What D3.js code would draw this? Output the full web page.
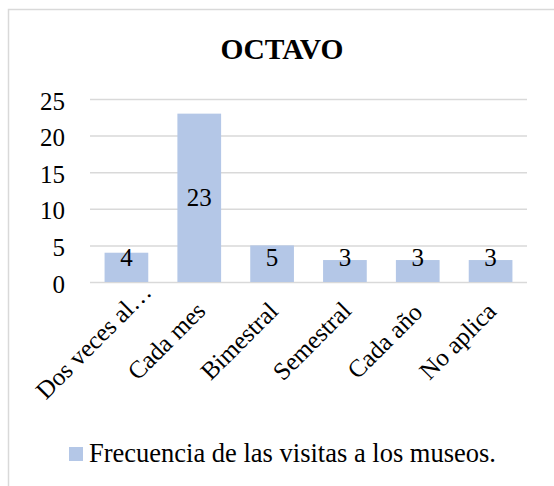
<!DOCTYPE html>
<html>
<head>
<meta charset="utf-8">
<script src="https://cdn.jsdelivr.net/npm/d3@7"></script>
<style>
  body { margin: 0; background: #fff; }
  svg text { font-family: "Times New Roman", "Liberation Serif", serif !important; fill: #000; }
</style>
</head>
<body>
<svg id="chart" width="554" height="486"></svg>
<script>
// data
const categories = ['Dos veces al…', 'Cada mes', 'Bimestral', 'Semestral', 'Cada año', 'No aplica'];
const visitas = [4, 23, 5, 3, 3, 3];
const yTicks = [0, 5, 10, 15, 20, 25];
const seriesName = 'Frecuencia de las visitas a los museos.';
const chartTitle = 'OCTAVO';

const svg = d3.select('#chart');
const barColor = '#b4c7e7';
const gridColor = '#d9d9d9';

// chart frame (only top and left edges fall inside the picture)
svg.append('rect')
  .attr('x', 8.5).attr('y', 9.5)
  .attr('width', 700).attr('height', 700)
  .attr('fill', 'none')
  .attr('stroke', gridColor)
  .attr('stroke-width', 1.5);

svg.append('text')
  .attr('x', 282).attr('y', 59)
  .attr('text-anchor', 'middle')
  .attr('font-size', 29.5)
  .attr('font-weight', 'bold')
  .text(chartTitle);

let x = d3.scaleBand()
  .domain(categories)
  .range([90, 527])
  .paddingInner(0.4)
  .paddingOuter(0.2);

let y = d3.scaleLinear()
  .domain([0, 25])
  .range([282, 99]);

// gridlines + y labels
let yAxis = d3.axisLeft(y)
  .tickValues(yTicks)
  .tickSize(-(527 - 90))
  .tickPadding(25);

let gy = svg.append('g')
  .attr('transform', 'translate(90,0)')
  .call(yAxis);
gy.attr('font-family', null);
gy.select('.domain').remove();
gy.selectAll('.tick line').attr('stroke', gridColor).attr('stroke-width', 1.5);
gy.selectAll('.tick text')
  .attr('font-size', 25)
  .attr('dy', '0.4em');

// bars
svg.selectAll('rect.bar').data(visitas)
  .enter().append('rect')
  .attr('class', 'bar')
  .attr('x', (d, i) => x(categories[i]))
  .attr('y', d => y(d))
  .attr('width', x.bandwidth())
  .attr('height', d => y(0) - y(d))
  .attr('fill', barColor);

// data labels, centered but kept off the axis for short bars
svg.selectAll('text.val').data(visitas)
  .enter().append('text')
  .attr('class', 'val')
  .attr('x', (d, i) => x(categories[i]) + x.bandwidth() / 2)
  .attr('y', d => Math.min(y(d / 2), y(0) - 25) + 8.5)
  .attr('text-anchor', 'middle')
  .attr('font-size', 25)
  .text(d => d);

// category labels, rotated
svg.selectAll('text.cat').data(categories)
  .enter().append('text')
  .attr('class', 'cat')
  .attr('transform', d => {
    let cx = x(d) + x.bandwidth() / 2;
    return `translate(${cx - 27},${y(0) + 65}) rotate(-45)`;
  })
  .attr('text-anchor', 'middle')
  .attr('font-size', 25)
  .text(d => d);

// legend
let legend = svg.append('g');
legend.append('rect')
  .attr('x', 69).attr('y', 447)
  .attr('width', 14).attr('height', 14)
  .attr('fill', barColor);
legend.append('text')
  .attr('x', 89).attr('y', 462)
  .attr('font-size', 26.5)
  .text(seriesName);
</script>
</body>
</html>
